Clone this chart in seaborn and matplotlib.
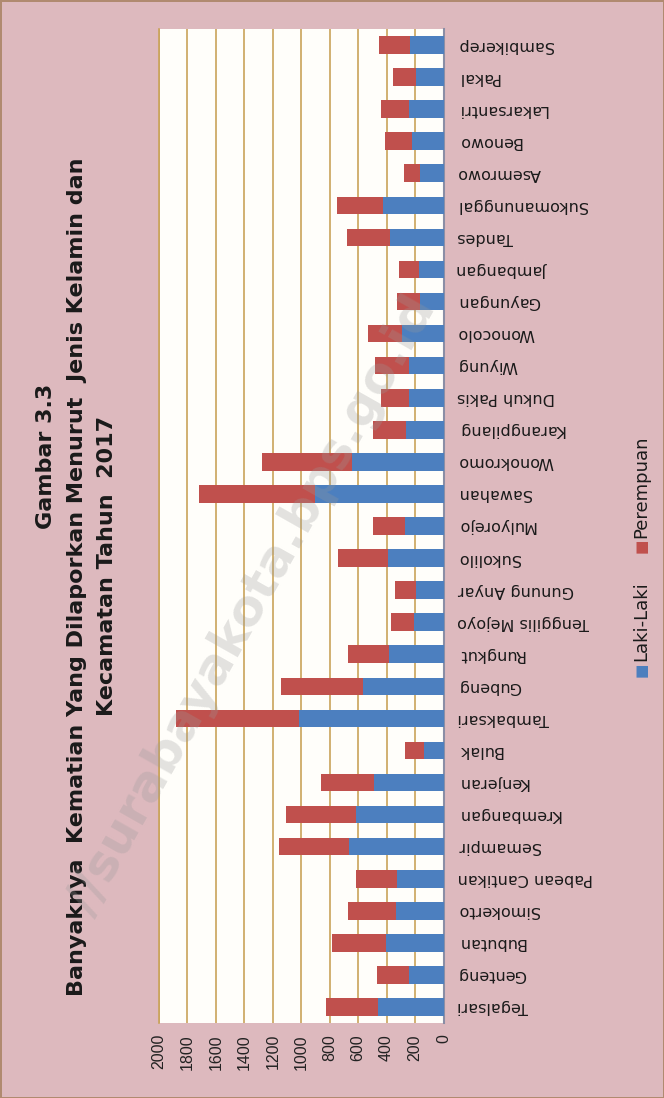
import numpy as np
import pandas as pd
import matplotlib
matplotlib.use("Agg")
import matplotlib.pyplot as plt
import seaborn as sns

# ---- data ----
kecamatan = ["Tegalsari", "Genteng", "Bubutan", "Simokerto", "Pabean Cantikan",
             "Semampir", "Krembangan", "Kenjeran", "Bulak", "Tambaksari", "Gubeng",
             "Rungkut", "Tenggilis Mejoyo", "Gunung Anyar", "Sukolilo", "Mulyorejo",
             "Sawahan", "Wonokromo", "Karangpilang", "Dukuh Pakis", "Wiyung",
             "Wonocolo", "Gayungan", "Jambangan", "Tandes", "Sukomanunggal",
             "Asemrowo", "Benowo", "Lakarsantri", "Pakal", "Sambikerep"]
laki = [463, 244, 407, 335, 328, 665, 616, 491, 135, 1019, 565, 384, 209, 193, 393,
        272, 902, 646, 263, 244, 244, 290, 165, 170, 374, 428, 163, 218, 244, 190, 237]
perempuan = [365, 226, 379, 337, 288, 488, 491, 372, 137, 861, 579, 288, 161, 149, 351,
             226, 816, 633, 235, 193, 235, 238, 160, 146, 307, 323, 118, 191, 193, 163, 216]
x_ticks = [0, 200, 400, 600, 800, 1000, 1200, 1400, 1600, 1800, 2000]
title_lines = ["Gambar 3.3",
               "Banyaknya  Kematian Yang Dilaporkan Menurut  Jenis Kelamin dan",
               "Kecamatan Tahun  2017"]
legend_labels = ["Laki-Laki", "Perempuan"]

BLUE = "#4c7fbf"
RED = "#c0504d"
BG = "#ddb9be"

df = pd.DataFrame({"Kecamatan": kecamatan, "Laki-Laki": laki, "Perempuan": perempuan})
df["Total"] = df["Laki-Laki"] + df["Perempuan"]
order = kecamatan[::-1]

sns.set_theme(style="white")
plt.rcParams["font.family"] = ["DejaVu Sans"]

fig = plt.figure(figsize=(6.64, 10.98), dpi=100)
fig.patch.set_facecolor(BG)
ax = fig.add_axes([159 / 664, 1 - 1023 / 1098, (443.5 - 159) / 664, (1023 - 29) / 1098])
ax.set_facecolor("#fffefa")

sns.barplot(data=df, x="Total", y="Kecamatan", order=order, color=RED,
            saturation=1, width=0.55, orient="h", ax=ax, zorder=3)
sns.barplot(data=df, x="Laki-Laki", y="Kecamatan", order=order, color=BLUE,
            saturation=1, width=0.55, orient="h", ax=ax, zorder=4)
for p in ax.patches:
    p.set_linewidth(0)

ax.set_xlim(2000, 0)
ax.set_ylim(len(order) - 0.5, -0.5)
ax.set_xticks(x_ticks)
ax.set_xticklabels([str(t) for t in x_ticks], rotation=90, va="top", ha="center",
                   fontsize=11.5, family="Liberation Sans", color="#222222")
ax.xaxis.grid(True, color="#c9a35a", linewidth=1.2, zorder=0)
ax.yaxis.grid(False)
ax.set_axisbelow(True)
ax.set_xlabel("")
ax.set_ylabel("")

ax.yaxis.tick_right()
ax.tick_params(axis="y", length=0, pad=10, labelright=True, labelleft=False)
ax.tick_params(axis="x", length=0, pad=8)
for lab in ax.get_yticklabels():
    lab.set_rotation(180)
    lab.set_ha("left")
    lab.set_va("center")
    lab.set_fontsize(11.5)
    lab.set_color("#1a1a1a")

for s in ["top", "bottom"]:
    ax.spines[s].set_visible(False)
ax.spines["left"].set_color("#c9a35a")
ax.spines["left"].set_linewidth(1.2)
ax.spines["right"].set_color("#8a8ea6")
ax.spines["right"].set_linewidth(1.5)

# title (rotated)
fig.text(46 / 664, 1 - 456 / 1098, title_lines[0], rotation=90, ha="center", va="center",
         fontsize=16, fontweight="bold", color="#1a1a1a")
fig.text(77 / 664, 1 - 577 / 1098, title_lines[1], rotation=90, ha="center", va="center",
         fontsize=16, fontweight="bold", color="#1a1a1a")
fig.text(107 / 664, 1 - 566 / 1098, title_lines[2], rotation=90, ha="center", va="center",
         fontsize=16, fontweight="bold", color="#1a1a1a")

# legend (rotated)
fig.text(641 / 664, 1 - 670 / 1098, "■", rotation=90, ha="center", va="center",
         fontsize=11, color=BLUE)
fig.text(641 / 664, 1 - 661 / 1098, legend_labels[0], rotation=90, ha="center", va="bottom",
         fontsize=13, color="#1a1a1a")
fig.text(641 / 664, 1 - 546 / 1098, "■", rotation=90, ha="center", va="center",
         fontsize=11, color=RED)
fig.text(641 / 664, 1 - 538 / 1098, legend_labels[1], rotation=90, ha="center", va="bottom",
         fontsize=13, color="#1a1a1a")

# watermark
fig.text(252 / 664, 1 - 605 / 1098, "//surabayakota.bps.go.id", rotation=60.5,
         ha="center", va="center", fontsize=36, fontweight="bold",
         color="#9a9a9a", alpha=0.28, zorder=10)

fig.patch.set_edgecolor("#b08a70")
fig.patch.set_linewidth(2)

fig.savefig("out.png", dpi=100, facecolor=fig.get_facecolor(), edgecolor=fig.get_edgecolor())
